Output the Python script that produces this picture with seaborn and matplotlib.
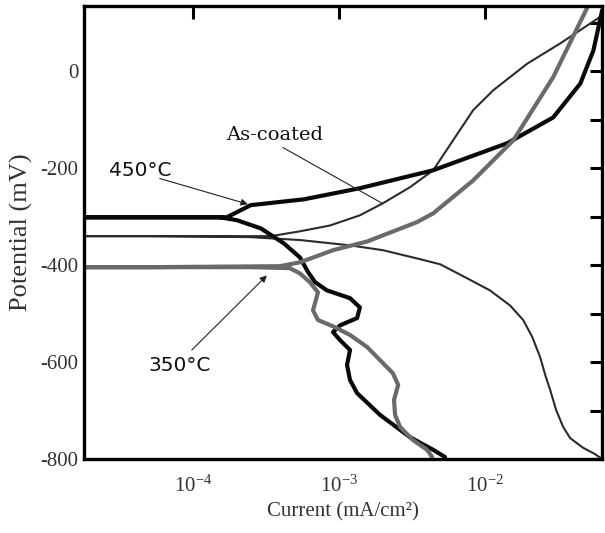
import numpy as np
import pandas as pd
import seaborn as sns
import matplotlib.pyplot as plt
from matplotlib.ticker import FixedLocator, NullFormatter, NullLocator

# Values: current (mA/cm2) and potential (mV),
# each curve traced from the cathodic end, through Ecorr, up the anodic branch
ascoated_i = [6.3e-2, 5.66e-2, 4.69e-2, 3.82e-2, 3.42e-2, 3.06e-2, 2.79e-2, 2.58e-2,
              2.38e-2, 2.10e-2, 1.82e-2, 1.48e-2, 1.08e-2, 7.53e-3, 4.92e-3, 3.42e-3,
              2.00e-3, 1.19e-3, 5.41e-4, 2.45e-4, 5.07e-5, 1e-5,
              1.12e-4, 3.42e-4, 5.41e-4, 8.67e-4, 1.39e-3, 2.00e-3, 3.06e-3, 4.41e-3,
              6.04e-3, 8.28e-3, 1.135e-2, 1.94e-2, 3.27e-2, 5.24e-2, 6.3e-2]
ascoated_e = [-800, -790, -777, -757, -734, -699, -658, -627,
              -590, -548, -513, -483, -452, -427, -398, -386,
              -369, -359, -348, -342, -340, -340,
              -340, -340, -330, -318, -297, -272, -239, -204,
              -142, -80, -39, 16, 58, 99, 115]

c450_i = [5.32e-3, 4.41e-3, 3.06e-3, 1.91e-3, 1.33e-3, 1.19e-3, 1.135e-3, 1.19e-3,
          1.02e-3, 9.1e-4, 1.02e-3, 1.33e-3, 1.39e-3, 1.19e-3, 8.28e-4, 6.86e-4,
          6.14e-4, 5.41e-4, 4.20e-4, 2.92e-4, 2.00e-4, 1.53e-4, 1e-5,
          1.71e-4, 2.49e-4, 5.75e-4, 1.39e-3, 4.41e-3, 1.42e-2, 2.92e-2, 4.48e-2,
          5.50e-2, 6.32e-2]
c450_e = [-796, -781, -755, -709, -664, -637, -606, -575,
          -555, -538, -524, -509, -487, -468, -452, -435,
          -414, -384, -355, -324, -307, -301, -301,
          -301, -276, -264, -241, -204, -148, -95, -25,
          43, 126]

c350_i = [4.34e-3, 4.01e-3, 3.21e-3, 2.62e-3, 2.42e-3, 2.38e-3, 2.54e-3, 2.34e-3,
          1.91e-3, 1.56e-3, 1.19e-3, 9.4e-4, 7.18e-4, 6.64e-4, 6.86e-4, 7.18e-4,
          6.32e-4, 5.41e-4, 4.61e-4, 2.45e-4, 5.07e-5, 1e-5,
          5.07e-5, 3.94e-4, 5.41e-4, 9.1e-4, 1.56e-3, 3.42e-3, 4.41e-3, 8.28e-3,
          1.56e-2, 2.92e-2, 5.0e-2, 5.24e-2]
c350_e = [-796, -781, -761, -734, -709, -678, -647, -623,
          -596, -569, -544, -528, -513, -493, -478, -456,
          -435, -417, -406, -404, -404, -404,
          -404, -402, -394, -369, -351, -311, -293, -225,
          -142, -12, 132, 157]

y_ticks = [-800, -600, -400, -200, 0]
x_ticks = [1e-4, 1e-3, 1e-2]

sns.set_style("white")
plt.rcParams['font.family'] = ['Liberation Serif', 'DejaVu Serif']
plt.rcParams['mathtext.fontset'] = 'custom'
plt.rcParams['mathtext.rm'] = 'Liberation Serif'
plt.rcParams['mathtext.it'] = 'Liberation Serif:italic'
plt.rcParams['axes.unicode_minus'] = False

fig = plt.figure(figsize=(6.05, 5.33), dpi=100)
ax = fig.add_axes([0.1388, 0.1388, 0.8562, 0.8499])

curves = [
    (ascoated_i, ascoated_e, '#2b2b2b', 1.5),
    (c450_i, c450_e, '#0a0a0a', 3.0),
    (c350_i, c350_e, '#6a6a6a', 3.0),
]
for cur, pot, col, lw in curves:
    df = pd.DataFrame({'i': cur, 'E': pot})
    sns.lineplot(data=df, x='i', y='E', sort=False, estimator=None,
                 color=col, lw=lw, ax=ax,
                 solid_joinstyle='round', solid_capstyle='round')

ax.set_xscale('log')
ax.set_xlim(1.8e-5, 6.3e-2)
ax.set_ylim(-800, 135)

ax.xaxis.set_major_locator(FixedLocator(x_ticks))
ax.xaxis.set_minor_locator(NullLocator())
ax.xaxis.set_minor_formatter(NullFormatter())
ax.set_xticks(x_ticks)
ax.set_xticklabels([r'$\mathregular{10^{-4}}$', r'$\mathregular{10^{-3}}$',
                    r'$\mathregular{10^{-2}}$'])
ax.set_yticks(y_ticks)
ax.yaxis.set_minor_locator(FixedLocator([-700, -500, -300, -100, 100]))

ax.tick_params(which='both', direction='in', length=9, width=2.2,
               top=True, right=True, colors='black', labelcolor='#333333',
               labelsize=15)
ax.tick_params(axis='x', pad=12)
ax.tick_params(axis='y', pad=4)

for s in ax.spines.values():
    s.set_linewidth(2.4)
    s.set_color('black')

ax.set_xlabel('Current (mA/cm²)', fontsize=15, color='#333333')
ax.set_ylabel('Potential (mV)', fontsize=19, color='#333333')
ax.xaxis.set_label_coords(0.5, -0.095)
ax.yaxis.set_label_coords(-0.098, 0.5)

# curve labels: text and its arrow
ax.text(4.4e-5, -204, '450°C', fontsize=14.5, family='DejaVu Sans',
        color='#111111', ha='center', va='center')
ax.annotate('', xy=(2.38e-4, -274), xytext=(5.94e-5, -221),
            arrowprops=dict(arrowstyle='-|>', color='#222222', lw=0.8,
                            mutation_scale=10, shrinkA=0, shrinkB=0))
ax.text(3.65e-4, -132, 'As-coated', fontsize=14, family='DejaVu Serif',
        color='#111111', ha='center', va='center')
ax.annotate('', xy=(1.97e-3, -272), xytext=(4.13e-4, -157),
            arrowprops=dict(arrowstyle='-', color='#222222', lw=0.8,
                            shrinkA=0, shrinkB=0))
ax.text(8.09e-5, -606, '350°C', fontsize=14.5, family='DejaVu Sans',
        color='#111111', ha='center', va='center')
ax.annotate('', xy=(3.21e-4, -421), xytext=(9.84e-5, -575),
            arrowprops=dict(arrowstyle='-|>', color='#222222', lw=0.8,
                            mutation_scale=10, shrinkA=0, shrinkB=0))

fig.savefig('out.png', dpi=100)
